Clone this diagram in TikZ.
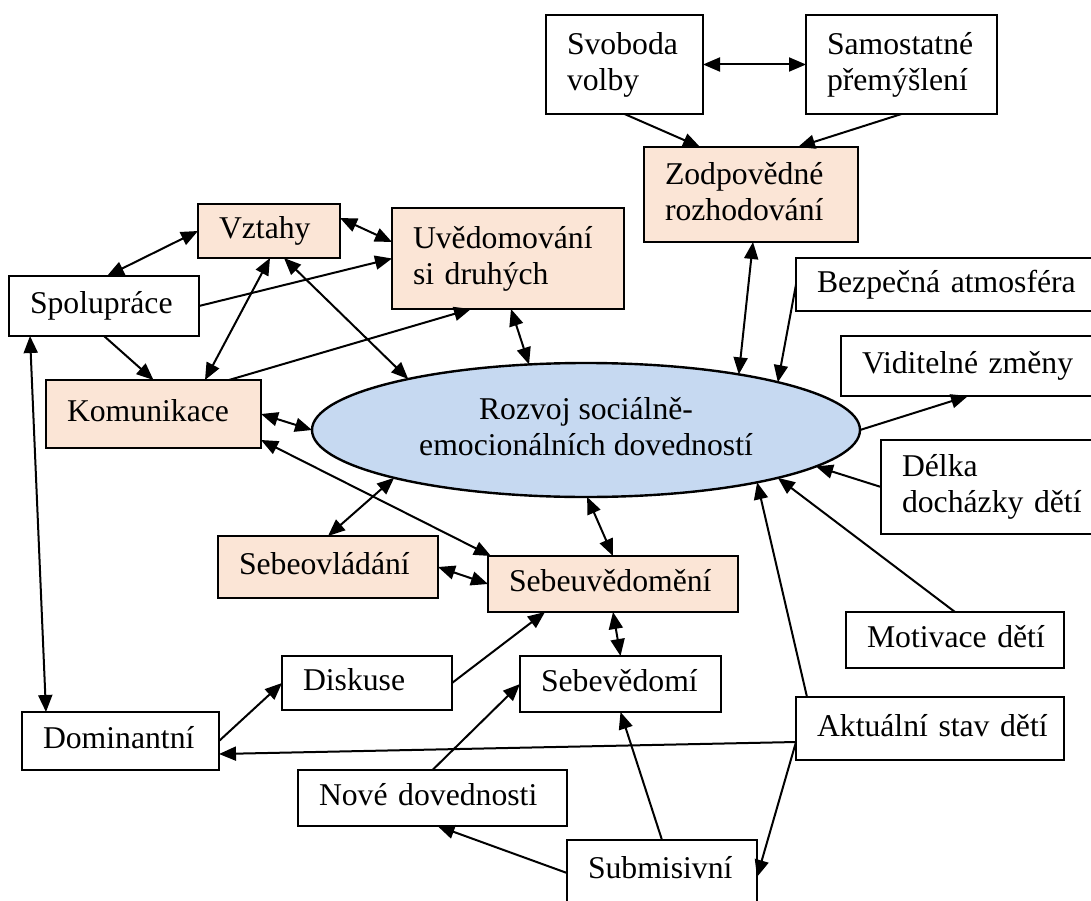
\documentclass[tikz,border=0pt]{standalone}
\usepackage{fontspec}
\setmainfont{Liberation Serif}
\usetikzlibrary{arrows.meta,shapes.geometric,calc}
\definecolor{peach}{HTML}{FBE5D6}
\definecolor{skyfill}{HTML}{C6D9F1}
% strut so that every line is centred on its capital letters
\newcommand{\boxstrut}{\rule[-0.2em]{0pt}{0.862em}}

\begin{document}
\begin{tikzpicture}[x=1pt,y=-1pt,
  >={Triangle[length=17pt,width=14pt]},
  txt/.style={font=\fontsize{31.7pt}{36pt}\selectfont,
    execute at begin node={\hyphenpenalty=10000\exhyphenpenalty=10000\boxstrut}},
  box/.style={txt, draw=black, line width=2.4pt, anchor=north west, outer sep=0pt,
    inner xsep=21pt, inner ysep=0pt, align=left},
  plain/.style={box, fill=white},
  warm/.style={box, fill=peach},
  oval/.style={txt, ellipse, draw=black, line width=2.4pt, fill=skyfill, outer sep=0pt,
    inner sep=0pt, minimum width=548pt, minimum height=134pt, align=center},
  conn/.style={line width=2pt}
]
\useasboundingbox (0,0) rectangle (1091,901);
\fill[white] (0,0) rectangle (1091,901);
\clip (0,0) rectangle (1091,901);

% central ellipse
\node[oval] (ell) at (586,430) {Rozvoj sociálně-\\\boxstrut emocionálních dovedností};

% boxes
\node[plain, minimum width=157pt, minimum height=99pt, text width=115pt] (svo) at (546,15) {Svoboda\\\boxstrut volby};
\node[plain, minimum width=191pt, minimum height=99pt, text width=149pt] (sam) at (806,15) {Samostatné\\\boxstrut přemýšlení};
\node[warm, minimum width=214pt, minimum height=95pt, text width=172pt] (zod) at (644,147) {Zodpovědné\\\boxstrut rozhodování};
\node[warm, minimum width=142pt, minimum height=54pt, text width=100pt] (vzt) at (198,204) {Vztahy};
\node[warm, minimum width=232pt, minimum height=101pt, text width=190pt] (uve) at (392,208) {Uvědomování\\\boxstrut si~druhých};
\node[plain, minimum width=190pt, minimum height=60pt, text width=148pt] (spo) at (9,276) {Spolupráce};
\node[plain, minimum width=298pt, minimum height=53pt, text width=256pt] (bez) at (796,258) {Bezpečná~atmosféra};
\node[plain, minimum width=253pt, minimum height=60pt, text width=211pt] (vid) at (841,336) {Viditelné~změny};
\node[warm, minimum width=215pt, minimum height=68pt, text width=173pt] (kom) at (46,380) {Komunikace};
\node[plain, minimum width=213pt, minimum height=94pt, text width=171pt] (del) at (881,440) {Délka\\\boxstrut docházky~dětí};
\node[warm, minimum width=220pt, minimum height=62pt, text width=178pt] (seo) at (218,536) {Sebeovládání};
\node[warm, minimum width=250pt, minimum height=56pt, text width=208pt] (seu) at (488,556) {Sebeuvědomění};
\node[plain, minimum width=218pt, minimum height=56pt, text width=176pt] (mot) at (846,612) {Motivace~dětí};
\node[plain, minimum width=170pt, minimum height=54pt, text width=128pt] (dis) at (282,656) {Diskuse};
\node[plain, minimum width=201pt, minimum height=56pt, text width=159pt] (sev) at (520,656) {Sebevědomí};
\node[plain, minimum width=197pt, minimum height=58pt, text width=155pt] (dom) at (22,712) {Dominantní};
\node[plain, minimum width=268pt, minimum height=63pt, text width=226pt] (akt) at (796,697) {Aktuální~stav~dětí};
\node[plain, minimum width=269pt, minimum height=56pt, text width=227pt] (nov) at (298,770) {Nové~dovednosti};
\node[plain, minimum width=190pt, minimum height=62pt, text width=148pt] (sub) at (567,840) {Submisivní};

% connectors
\draw[conn,<->] (svo.east) -- (sam.west);
\draw[conn,->] (svo.south) -- ($(zod.north west)+(56,0)$);
\draw[conn,->] (sam.south) -- ($(zod.north west)+(154,0)$);
\draw[conn,<->] ($(zod.south west)+(109,0)$) -- (ell.20);
\draw[conn,->] (bez.west) -- (ell.14);
\draw[conn,->] (ell.0) -- ($(vid.south west)+(127,0)$);
\draw[conn,->] (del.west) -- (ell.-9);
\draw[conn,->] (mot.north) -- (ell.-14);
\draw[conn,->] ($(akt.north west)+(11,0)$) -- (ell.-17);
\coordinate (aktl) at ($(akt.south west)+(0,-18)$);
\draw[conn,->] (aktl) -- ($(dom.south east)+(0,-16)$);
\draw[conn,->] (aktl) -- ($(sub.north east)+(0,37)$);
\draw[conn,->] (sub.north) -- (sev.south);
\draw[conn,->] ($(sub.north west)+(0,33)$) -- ($(nov.south)+(5,0)$);
\draw[conn,->] (nov.north) -- (sev.west);
\draw[conn,->] (dis.east) -- ($(seu.south west)+(57,0)$);
\draw[conn,->] (dom.east) -- (dis.west);
\draw[conn,<->] (seu.south) -- (sev.north);
\draw[conn,<->] (ell.-89) -- (seu.north);
\draw[conn,<->] (seo.east) -- (seu.west);
\draw[conn,<->] (ell.194) -- (seo.north);
\draw[conn,<->] ($(kom.south east)+(0,-8)$) -- ($(seu.north west)+(3,0)$);
\draw[conn,<->] (kom.east) -- (ell.180);
\draw[conn,<->] ($(spo.south west)+(21,0)$) -- ($(dom.north west)+(24,0)$);
\draw[conn,->] (spo.south) -- (kom.north);
\draw[conn,<->] ($(spo.north west)+(98,0)$) -- (vzt.west);
\draw[conn,->] (spo.east) -- (uve.west);
\draw[conn,<->] ($(vzt.north east)+(0,14)$) -- ($(uve.north west)+(0,34)$);
\draw[conn,<->] ($(vzt.south west)+(72,0)$) -- ($(kom.north west)+(159,0)$);
\draw[conn,<->] ($(vzt.south west)+(86,0)$) -- (ell.164);
\draw[conn,->] ($(kom.north west)+(183,0)$) -- ($(uve.south west)+(79,0)$);
\draw[conn,<->] ($(uve.south west)+(119,0)$) -- (ell.131);
\end{tikzpicture}
\end{document}
